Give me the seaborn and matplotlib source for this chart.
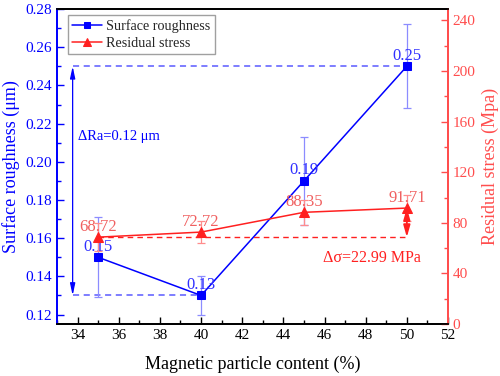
import matplotlib
matplotlib.use("Agg")
import matplotlib.pyplot as plt
import seaborn as sns
import pandas as pd
from matplotlib.ticker import MultipleLocator

# ---- data ----
content = [35, 40, 45, 50]
roughness = [0.15, 0.13, 0.19, 0.25]
roughness_err = [0.021, 0.010, 0.023, 0.022]
roughness_labels = ["0.15", "0.13", "0.19", "0.25"]
stress = [68.72, 72.72, 88.35, 91.71]
stress_err = [11, 9, 10, 10]
stress_labels = ["68.72", "72.72", "88.35", "91.71"]
delta_ra_text = "ΔRa=0.12 μm"
delta_sigma_text = "Δσ=22.99 MPa"

sns.set_style("ticks")
plt.rcParams["font.family"] = ["Liberation Serif", "DejaVu Serif"]
plt.rcParams["mathtext.fontset"] = "stix"

BLUE = "#0000FF"
BLUE_L = "#8C8CFF"
BLUE_D = "#5A5AFF"
BLUE_T = "#3030FF"
RED = "#FF2020"
RED_L = "#FF8C8C"
RED_T = "#F06060"
RED_AX = "#FF4D4D"

df = pd.DataFrame({"content": content, "roughness": roughness, "stress": stress})

fig = plt.figure(figsize=(5.0, 3.76), dpi=100)
ax = fig.add_axes([0.114, 0.138, 0.782, 0.838])
ax2 = ax.twinx()

# roughness
ax.errorbar(content, roughness, yerr=roughness_err, fmt="none", ecolor=BLUE_L,
            elinewidth=0.9, capsize=3, capthick=0.9, zorder=2)
sns.lineplot(data=df, x="content", y="roughness", ax=ax, color=BLUE, marker="s",
             markersize=5.5, markeredgecolor=BLUE, linewidth=1.1, zorder=3,
             label="Surface roughness", legend=False)
for x, y, t in zip(content, roughness, roughness_labels):
    ax.annotate(t, (x, y), xytext=(0, 7.5), textcoords="offset points",
                ha="center", va="center", color=BLUE_T, fontsize=12)

# stress
ax2.errorbar(content, stress, yerr=stress_err, fmt="none", ecolor=RED_L,
             elinewidth=0.9, capsize=3, capthick=0.9, zorder=2)
sns.lineplot(data=df, x="content", y="stress", ax=ax2, color=RED, marker="^",
             markersize=6.5, markeredgecolor=RED, linewidth=1.1, zorder=3,
             label="Residual stress", legend=False)
for x, y, t in zip(content, stress, stress_labels):
    ax2.annotate(t, (x, y), xytext=(0, 7.5), textcoords="offset points",
                 ha="center", va="center", color=RED_T, fontsize=12)

# blue annotation: dashed lines + double arrow
xa = 33.76
ax.plot([xa, content[3]], [roughness[3], roughness[3]], ls="--", color=BLUE_D, lw=1.1,
        dashes=(4, 3), zorder=1)
ax.plot([xa, content[1]], [roughness[1], roughness[1]], ls="--", color=BLUE_D, lw=1.1,
        dashes=(4, 3), zorder=1)
ax.annotate("", xy=(xa, roughness[3]), xytext=(xa, roughness[1]),
            arrowprops=dict(arrowstyle="<|-|>,head_length=0.7,head_width=0.15",
                            color=BLUE, lw=0.9, shrinkA=0, shrinkB=0))
ax.text(34.0, 0.213, delta_ra_text, color=BLUE, fontsize=10.5, ha="left", va="center")

# red annotation
ax2.plot([content[0], content[3]], [stress[0], stress[0]], ls="--", color=RED, lw=1.0,
         dashes=(4, 3), zorder=1)
ax2.annotate("", xy=(content[3], stress[3]), xytext=(content[3], stress[0]),
             arrowprops=dict(arrowstyle="<|-|>,head_length=0.7,head_width=0.2",
                             color=RED, lw=1.3, shrinkA=0, shrinkB=0))
ax2.text(48.3, 52.6, delta_sigma_text, color=RED, fontsize=11.5, ha="center", va="center")

# axes
ax.set_xlim(33, 52)
ax.set_ylim(0.115, 0.28)
ax2.set_ylim(0, 249)
ax.xaxis.set_major_locator(MultipleLocator(2))
ax.xaxis.set_minor_locator(MultipleLocator(1))
ax.yaxis.set_major_locator(MultipleLocator(0.02))
ax.yaxis.set_minor_locator(MultipleLocator(0.01))
ax2.yaxis.set_major_locator(MultipleLocator(40))
ax2.yaxis.set_minor_locator(MultipleLocator(20))
ax.yaxis.set_major_formatter(matplotlib.ticker.FormatStrFormatter("%.2f"))

ax.set_xlabel("Magnetic particle content (%)", fontsize=13, color="black", labelpad=10)
ax.set_ylabel("Surface roughness (μm)", fontsize=13, color=BLUE, labelpad=4)
ax2.set_ylabel("Residual stress (Mpa)", fontsize=13, color=RED_AX, labelpad=4)

ax.tick_params(axis="x", which="both", direction="in", colors="black", labelsize=11)
ax.tick_params(axis="x", which="major", length=5, width=1)
ax.tick_params(axis="x", which="minor", length=3, width=1)
ax.tick_params(axis="y", which="both", direction="in", colors=BLUE, labelsize=11)
ax.tick_params(axis="y", which="major", length=5, width=1)
ax.tick_params(axis="y", which="minor", length=3, width=1)
ax2.tick_params(axis="y", which="both", direction="in", colors=RED_AX, labelsize=11)
ax2.tick_params(axis="y", which="major", length=5, width=1)
ax2.tick_params(axis="y", which="minor", length=3, width=1)

for a in (ax, ax2):
    for s in a.spines.values():
        s.set_linewidth(1.3)
    a.spines["top"].set_color("black")
    a.spines["bottom"].set_color("black")
    a.spines["top"].set_visible(True)
    a.spines["right"].set_visible(True)
ax2.spines["left"].set_color(BLUE)
ax2.spines["right"].set_color(RED_AX)
ax.spines["left"].set_color(BLUE)
ax.spines["right"].set_color(RED_AX)

# legend
h1, l1 = ax.get_legend_handles_labels()
h2, l2 = ax2.get_legend_handles_labels()
leg = ax2.legend(h1 + h2, l1 + l2, loc="upper left", bbox_to_anchor=(0.028, 0.981),
                 fontsize=10.2, frameon=True, fancybox=False, edgecolor="#888888",
                 borderpad=0.3, handlelength=2.1, labelspacing=0.25, borderaxespad=0,
                 handletextpad=0.3, markerscale=0.8)
leg.get_frame().set_linewidth(1.0)

fig.savefig("out.png", dpi=100)
